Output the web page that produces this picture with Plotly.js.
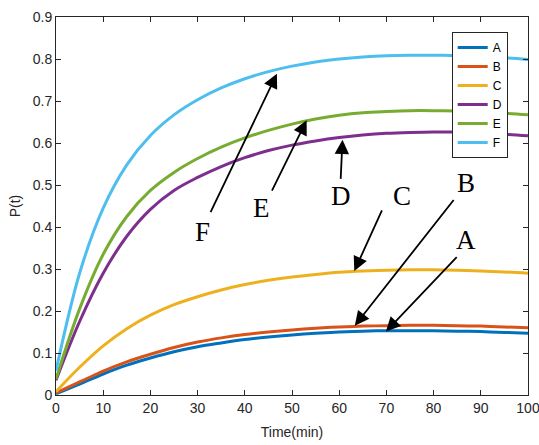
<!DOCTYPE html>
<html>
<head>
<meta charset="utf-8">
<script src="https://cdn.plot.ly/plotly-3.0.1.min.js"></script>
<style>html,body{margin:0;padding:0;background:#fff;}#chart{width:539px;height:445px;}</style>
</head>
<body>
<div id="chart"></div>
<script>
const time = [0, 5, 10, 15, 20, 25, 30, 35, 40, 45, 50, 55, 60, 65, 70, 75, 80, 85, 90, 95, 100];
const seriesA = [0.003, 0.026, 0.050, 0.071, 0.088, 0.103, 0.115, 0.124, 0.132, 0.138, 0.143, 0.147, 0.150, 0.152, 0.153, 0.153, 0.153, 0.152, 0.151, 0.149, 0.147];
const seriesB = [0.005, 0.031, 0.057, 0.079, 0.097, 0.113, 0.126, 0.136, 0.144, 0.150, 0.155, 0.159, 0.162, 0.164, 0.165, 0.166, 0.166, 0.165, 0.164, 0.162, 0.160];
const seriesC = [0.008, 0.066, 0.117, 0.158, 0.190, 0.215, 0.234, 0.250, 0.263, 0.273, 0.281, 0.287, 0.292, 0.295, 0.297, 0.298, 0.298, 0.297, 0.295, 0.293, 0.290];
const seriesD = [0.035, 0.175, 0.290, 0.378, 0.442, 0.487, 0.518, 0.544, 0.565, 0.582, 0.595, 0.605, 0.613, 0.619, 0.623, 0.625, 0.626, 0.626, 0.624, 0.621, 0.617];
const seriesE = [0.038, 0.205, 0.335, 0.425, 0.487, 0.530, 0.563, 0.590, 0.612, 0.630, 0.645, 0.657, 0.666, 0.672, 0.675, 0.677, 0.677, 0.676, 0.674, 0.671, 0.667];
const seriesF = [0.058, 0.290, 0.445, 0.548, 0.618, 0.667, 0.703, 0.731, 0.753, 0.770, 0.783, 0.793, 0.800, 0.805, 0.808, 0.809, 0.809, 0.808, 0.806, 0.803, 0.799];
const names = ["A", "B", "C", "D", "E", "F"];
const colors = ["#0072BD", "#D95319", "#EDB120", "#7E2F8E", "#77AC30", "#4DBEEE"];
const allSeries = [seriesA, seriesB, seriesC, seriesD, seriesE, seriesF];

// curve labels with arrows
const labelNames = ["F", "E", "D", "C", "B", "A"];
const headX = [46.8, 53.1, 60.7, 63.2, 63.3, 69.9];
const headY = [0.765, 0.654, 0.608, 0.295, 0.165, 0.151];
const tailX = [32.6, 45.6, 60.3, 69.2, 84.5, 85.2];
const tailY = [0.432, 0.483, 0.511, 0.443, 0.468, 0.332];
const textX = [31.1, 43.5, 60.3, 73.2, 86.9, 86.9];
const textY = [0.387, 0.446, 0.473, 0.473, 0.504, 0.368];

const traces = allSeries.map((s, i) => ({
  x: time, y: s, name: names[i], type: "scatter", mode: "lines",
  line: {color: colors[i], width: 3, shape: "spline", smoothing: 1}
}));

const annotations = [];
labelNames.forEach((lab, i) => {
  annotations.push({
    x: headX[i], y: headY[i], xref: "x", yref: "y",
    ax: tailX[i], ay: tailY[i], axref: "x", ayref: "y",
    text: "", showarrow: true, arrowhead: 2, arrowsize: 1.6, arrowwidth: 1.8, arrowcolor: "#000"
  });
  annotations.push({
    x: textX[i], y: textY[i], xref: "x", yref: "y", text: lab, showarrow: false,
    font: {family: "Liberation Serif, Times New Roman, serif", size: 27, color: "#000"}
  });
});

const axisCommon = {
  showline: true, mirror: "ticks", linecolor: "#262626", linewidth: 1,
  ticks: "inside", ticklen: 5, tickcolor: "#262626", showgrid: false, zeroline: false,
  ticklabeloverflow: "allow",
  tickfont: {family: "Liberation Sans, Arial, sans-serif", size: 14, color: "#262626"}
};

const layout = {
  width: 539, height: 445,
  margin: {l: 56, r: 11, t: 17, b: 50},
  paper_bgcolor: "#fff", plot_bgcolor: "#fff",
  showlegend: true,
  legend: {
    x: 0.957, y: 0.96, xanchor: "right", yanchor: "top",
    bgcolor: "#fff", bordercolor: "#262626", borderwidth: 1,
    font: {family: "Liberation Sans, Arial, sans-serif", size: 12, color: "#000"},
    tracegroupgap: 0
  },
  xaxis: Object.assign({}, axisCommon, {
    range: [0, 100], dtick: 10, tick0: 0,
    title: {text: "Time(min)", font: {family: "Liberation Sans, Arial, sans-serif", size: 14, color: "#262626"}, standoff: 12}
  }),
  yaxis: Object.assign({}, axisCommon, {
    range: [0, 0.9], dtick: 0.1, tick0: 0,
    title: {text: "P(t)", font: {family: "Liberation Sans, Arial, sans-serif", size: 14, color: "#262626"}, standoff: 8}
  }),
  annotations: annotations
};

Plotly.newPlot("chart", traces, layout, {displayModeBar: false, staticPlot: true});
</script>
</body>
</html>
